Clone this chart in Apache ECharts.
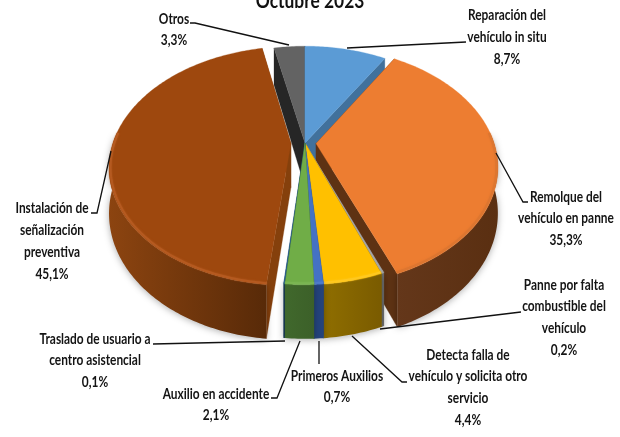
<!DOCTYPE html>
<html><head><meta charset="utf-8">
<style>html,body{margin:0;padding:0;background:#fff}#c{width:620px;height:437px}</style>
<script src="https://cdn.jsdelivr.net/npm/echarts@6/dist/echarts.min.js"></script>
</head><body><div id="c"></div>
<script>
// ---- data ----
const titleText = 'Octubre 2023';
const categories = ['Reparación del\nvehículo in situ','Remolque del\nvehículo en panne','Panne por falta\ncombustible del\nvehículo','Detecta falla de\nvehículo y solicita otro\nservicio','Primeros Auxilios','Auxilio en accidente','Traslado de usuario a\ncentro asistencial','Instalación de\nseñalización\npreventiva','Otros'];
const values = [8.7,35.3,0.2,4.4,0.7,2.1,0.1,45.1,3.3];
// ---- styles ----
const topColors = ['#5B9BD5','#ED7D31','#A5A5A5','#FFC000','#4472C4','#70AD47','#255E91','#9E480E','#636363'];
const wallLeft  = ['#37618a','#64371a','#6b6b6b','#8f6e00','#24437c','#40682c','#163a5c','#8c4410','#262626'];
const wallRight = ['#37618a','#5a2f11','#6b6b6b','#7a5b00','#24437c','#3c6029','#163a5c','#582a08','#262626'];
const faceColors= ['#41719c','#5e3213','#7a7a7a','#8f6e00','#24437c','#40682c','#163a5c','#85400c','#262626'];
const rimColors = ['#5B9BD5','#dd7630','#A5A5A5','#ffc820','#4f7ccc','#7ab552','#255E91','#b55a20','#636363'];
const explode   = [0,0.062,0,0,0,0,0,0.079,0];
const drawOrder = [8,0,7,1,2,3,6,4,5];
// ---- geometry ----
const G = {cx:305, cy:143, R:178, Ry:115, k:0.188, H:44, frontA:0.47*Math.PI, frontB:1.53*Math.PI};
function project(u,v,h){const w=1/(1-G.k*v);return [G.cx+G.R*u*w, G.cy+G.Ry*v*w+(h||0)*w];}
const total = values.reduce((a,b)=>a+b,0);
function sliceRange(i){let s=0;for(let j=0;j<i;j++)s+=values[j];return [s/total*2*Math.PI,(s+values[i])/total*2*Math.PI];}
function pt(i,th,r,h){const [a,b]=sliceRange(i),m=(a+b)/2,e=explode[i];
  return project(e*Math.sin(m)+r*Math.sin(th),-e*Math.cos(m)-r*Math.cos(th),h);}
function arc(i,r,h,a,b){const n=Math.max(2,Math.ceil((b-a)/0.015));const p=[];for(let t=0;t<=n;t++)p.push(pt(i,a+(b-a)*t/n,r,h));return p;}

// ---- label layout ----
const labelLayout = [[507,15,22],[566,197,21.5],[564,285,21.7],[468,355,21.7],[337,376,21],[216,394,21],[95,339,21.5],[52,208,22],[174,19,21.5]];
const leaderLines = [
 [[466,42],[347,48]],
 [[496,153],[523,202],[528,202]],
 [[521,312],[380,329]],
 [[352,336],[402,382],[407,382]],
 [[319,341],[319,364]],
 [[300,341],[277,398],[271,398]],
 [[285,341],[153,344]],
 [[111,151],[97,213],[91,213]],
 [[190,23],[195,23],[289,45]]
];
const font = {fontFamily:"Lato,'Liberation Sans',sans-serif",fontWeight:'bold',fontSize:14.5};
const textScaleX = 0.82;
const graphics = [];
graphics.push({type:'text',z:50,silent:true,x:310,y:2,scaleX:0.87,style:{text:titleText,fill:'#111',align:'center',verticalAlign:'middle',fontFamily:font.fontFamily,fontWeight:'bold',fontSize:20}});
categories.forEach((c,i)=>{
  const lines=(c+'\n'+values[i].toFixed(1).replace('.',',')+'%').split('\n');
  const [x,y,dy]=labelLayout[i];
  lines.forEach((t,j)=>graphics.push({type:'text',z:50,silent:true,x:x,y:y+j*dy,scaleX:textScaleX,style:Object.assign({text:t,fill:'#141414',align:'center',verticalAlign:'middle'},font)}));
});
leaderLines.forEach(p=>graphics.push({type:'polyline',z:49,silent:true,shape:{points:p},style:{stroke:'#111',lineWidth:1.3,fill:null}}));

function renderItem(params,api){
  const i=params.dataIndex,[a,b]=sliceRange(i),rank=drawOrder.indexOf(i)*10,H=G.H;
  const apexT=pt(i,a,0,0),apexB=pt(i,a,0,H);
  const kids=[];
  const face=(th,z)=>({type:'polygon',z2:rank+z,silent:true,shape:{points:[apexT,pt(i,th,1,0),pt(i,th,1,H),apexB]},style:{fill:faceColors[i],stroke:faceColors[i],lineWidth:0.3}});
  kids.push(face(a,0),face(b,1));
  const fa=Math.max(a,G.frontA),fb=Math.min(b,G.frontB);
  if(fb>fa){
    const topArc=arc(i,1,0,fa,fb),botArc=arc(i,1,H,fa,fb);
    const xs=topArc.concat(botArc).map(p=>p[0]),x0=Math.min(...xs),x1=Math.max(...xs);
    kids.push({type:'polygon',z2:rank+2,silent:true,shape:{points:topArc.concat(botArc.slice().reverse())},
      style:{fill:new echarts.graphic.LinearGradient(x0,0,x1,0,[{offset:0,color:wallLeft[i]},{offset:1,color:wallRight[i]}],true),
        shadowBlur:7,shadowColor:'rgba(0,0,0,0.32)',shadowOffsetY:1}});
  }
  kids.push({type:'polygon',z2:rank+3,silent:true,shape:{points:[apexT].concat(arc(i,1,0,a,b))},style:{fill:topColors[i],stroke:topColors[i],lineWidth:0.3}});
  if(fb>fa){kids.push({type:'polyline',z2:rank+4,silent:true,shape:{points:arc(i,0.992,0,fa,fb)},style:{fill:null,stroke:rimColors[i],lineWidth:2,shadowBlur:2,shadowColor:rimColors[i]}});}
  return {type:'group',children:kids};
}
const chart=echarts.init(document.getElementById('c'),null,{renderer:'canvas'});
chart.setOption({
  animation:false,backgroundColor:'#fff',
  series:[{type:'custom',coordinateSystem:'none',data:values.map(v=>[v]),renderItem:renderItem,clip:false,silent:true}],
  graphic:graphics
});
</script></body></html>
